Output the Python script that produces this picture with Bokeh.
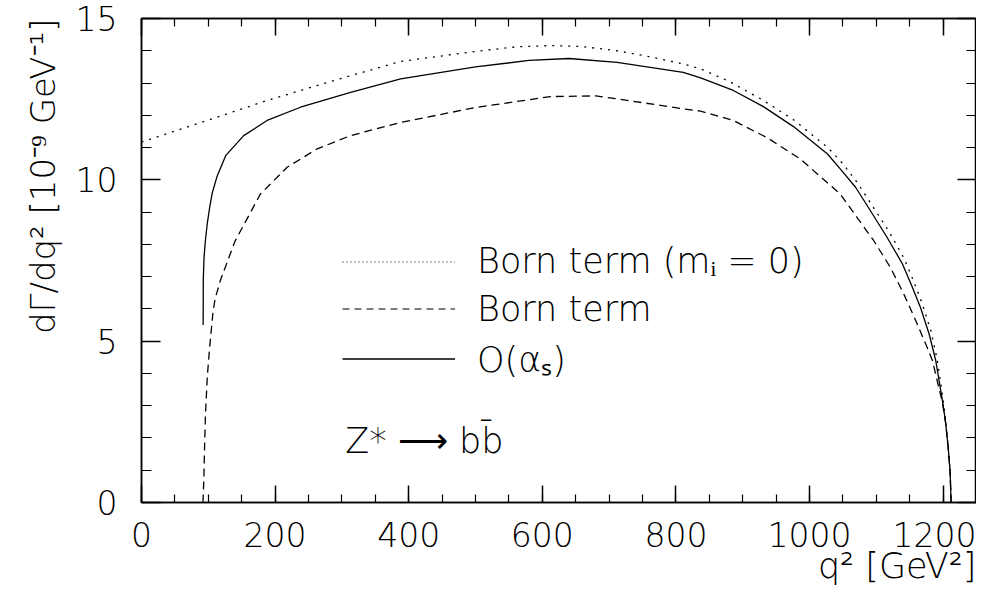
from bokeh.plotting import figure
from bokeh.models import (Range1d, LinearAxis, SingleIntervalTicker, Legend,
                          LegendItem, Label, Title)
from bokeh.embed import file_html
from bokeh.resources import INLINE

# ---- data ----
q2_born0 = [0, 100, 188, 300, 388, 500, 560, 612, 660, 712, 760, 811, 837, 880,
            931, 976, 1027, 1050, 1072, 1094, 1119, 1142, 1157, 1169, 1182, 1191,
            1200, 1204, 1208, 1210.5, 1212]
born0 = [11.17, 11.85, 12.46, 13.15, 13.67, 13.98, 14.12, 14.16, 14.13, 14.0,
         13.82, 13.59, 13.44, 13.05, 12.46, 11.86, 11.01, 10.5, 9.9, 9.2, 8.4,
         7.55, 6.8, 6.15, 5.3, 4.45, 3.2, 2.5, 1.65, 0.97, 0.0]

q2_born = [92, 93.3, 94.5, 95.8, 98.5, 102, 106.8, 110, 118, 140, 178, 218, 263,
           313, 388, 500, 612, 680, 712, 811, 837, 886, 937, 986, 1046, 1071,
           1096, 1121, 1141, 1159, 1176, 1184, 1192, 1199, 1204, 1208, 1210.5,
           1212]
born = [0.0, 0.68, 1.8, 2.75, 3.9, 4.81, 5.85, 6.3, 6.88, 8.1, 9.56, 10.39,
        10.96, 11.37, 11.78, 12.24, 12.58, 12.6, 12.51, 12.2, 12.13, 11.84,
        11.3, 10.65, 9.56, 8.84, 8.12, 7.29, 6.47, 5.64, 4.81, 4.4, 3.7, 3.1,
        2.43, 1.6, 0.94, 0.0]

q2_alphas = [92.3, 92.5, 93.6, 95.8, 98.8, 102.5, 106, 113, 126, 153, 188, 238,
             313, 388, 500, 580, 640, 712, 811, 837, 886, 931, 976, 1027, 1046,
             1069, 1091, 1116, 1139, 1154, 1166, 1179, 1189, 1199, 1204, 1208,
             1210.5, 1212]
alphas = [5.5, 6.9, 7.6, 8.15, 8.7, 9.2, 9.6, 10.1, 10.75, 11.37, 11.84, 12.25,
          12.71, 13.13, 13.5, 13.7, 13.76, 13.64, 13.33, 13.16, 12.77, 12.27,
          11.65, 10.8, 10.34, 9.77, 9.05, 8.22, 7.4, 6.67, 6.05, 5.23, 4.4,
          3.16, 2.45, 1.61, 0.95, 0.0]

x_major, x_minor_n = 200, 4
y_major, y_minor_n = 5, 5

labels = ["Born term (mᵢ = 0)", "Born term", "O(αₛ)"]
process_label = "Z* ⟶ bb̄"
x_title = "q² [GeV²]"
y_title = "dΓ/dq² [10⁻⁹ GeV⁻¹]"

FONT = "DejaVu Sans Light"

p = figure(width=976, height=590, x_range=Range1d(0, 1250), y_range=Range1d(0, 15),
           output_backend="svg", toolbar_location=None,
           min_border_left=141, min_border_right=0, min_border_top=18,
           min_border_bottom=88)
p.grid.visible = False
p.outline_line_color = "black"
p.outline_line_width = 1.5
p.background_fill_color = "white"
p.border_fill_color = "white"


def style_axis(ax, major_len, minor_len, show_labels, standoff):
    ax.axis_label = None
    ax.axis_line_color = "black"
    ax.axis_line_width = 1.5
    ax.major_tick_in = major_len
    ax.major_tick_out = 0
    ax.minor_tick_in = minor_len
    ax.minor_tick_out = 0
    ax.major_tick_line_width = 1.5
    ax.minor_tick_line_width = 1.2
    ax.major_tick_line_color = "black"
    ax.minor_tick_line_color = "black"
    if show_labels:
        ax.major_label_text_font = FONT
        ax.major_label_text_font_size = "33px"
        ax.major_label_text_color = "black"
        ax.major_label_standoff = standoff
    else:
        ax.major_label_text_color = None
        ax.major_label_text_font_size = "0px"
        ax.major_label_standoff = 0


xb = p.xaxis[0]
xb.ticker = SingleIntervalTicker(interval=x_major, num_minor_ticks=x_minor_n)
style_axis(xb, 17, 8, True, 19)

yl = p.yaxis[0]
yl.ticker = SingleIntervalTicker(interval=y_major, num_minor_ticks=y_minor_n)
style_axis(yl, 19, 10, True, 24)

xt = LinearAxis(ticker=SingleIntervalTicker(interval=x_major, num_minor_ticks=x_minor_n))
style_axis(xt, 17, 8, False, 0)
p.add_layout(xt, "above")
yr = LinearAxis(ticker=SingleIntervalTicker(interval=y_major, num_minor_ticks=y_minor_n))
style_axis(yr, 19, 10, False, 0)
p.add_layout(yr, "right")

# axis titles (right / top aligned as in the reference)
p.add_layout(Title(text=x_title, align="right", text_font=FONT,
                   text_font_size="35px", text_font_style="normal",
                   text_color="black", standoff=-12), "below")
p.add_layout(Title(text=y_title, align="right", text_font=FONT,
                   text_font_size="34px", text_font_style="normal",
                   text_color="black", standoff=20), "left")

# curves
p.line(q2_born0, born0, line_color="black", line_width=1.3, line_dash="2 6")
p.line(q2_born, born, line_color="black", line_width=1.3, line_dash="8 5")
p.line(q2_alphas, alphas, line_color="black", line_width=1.3)

# legend sample glyphs (single-point lines: nothing drawn in the frame)
l1 = p.line(q2_born0[:1], born0[:1], line_color="black", line_width=1.2, line_dash="1 3")
l2 = p.line(q2_born[:1], born[:1], line_color="black", line_width=1.2, line_dash="7 5")
l3 = p.line(q2_alphas[:1], alphas[:1], line_color="black", line_width=1.3)

legend = Legend(items=[LegendItem(label=labels[0], renderers=[l1]),
                       LegendItem(label=labels[1], renderers=[l2]),
                       LegendItem(label=labels[2], renderers=[l3])],
                location=(201, 120), glyph_width=113, glyph_height=41,
                label_height=41, label_standoff=22, spacing=6, padding=0,
                margin=0, border_line_color=None, background_fill_alpha=0,
                label_text_font=FONT, label_text_font_size="35px",
                label_text_color="black")
p.add_layout(legend)

p.add_layout(Label(x=305, y=1.92, text=process_label, text_font=FONT,
                   text_font_size="35px", text_color="black",
                   text_baseline="middle", text_align="left"))

open("out.html", "w").write(file_html(p, INLINE))
